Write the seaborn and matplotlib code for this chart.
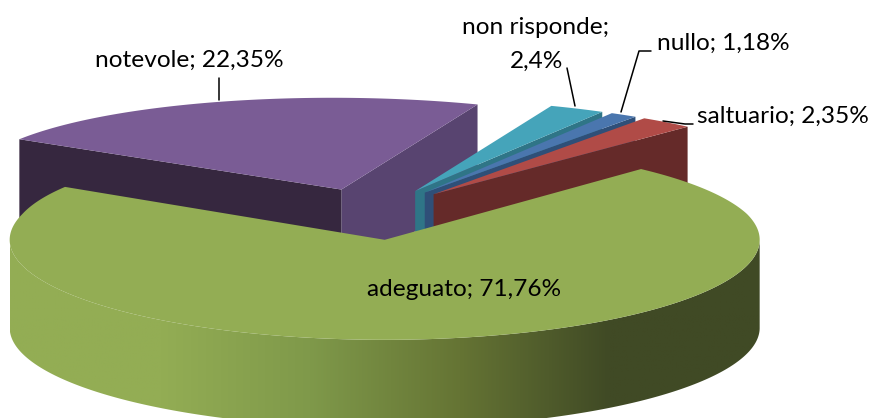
"""Exploded 3D style pie chart, drawn on a flat axes in pixel units."""

import numpy as np
import matplotlib
matplotlib.use("Agg")
import matplotlib.pyplot as plt
from matplotlib.patches import Polygon
import seaborn as sns

# Data, in drawing order going clockwise from the first slice
names = ["adeguato", "notevole", "non risponde", "nullo", "saltuario"]
values = [71.76, 22.35, 2.4, 1.18, 2.35]

top_colors = ["#93AD54", "#7A5C95", "#45A4BA", "#4A76AE", "#B04B47"]
right_face_colors = ["#93AD54", "#584470", "#2F7587", "#2F4F78", "#652A29"]
left_face_colors = ["#93AD54", "#36273F", "#2F7587", "#2F4F78", "#652A29"]
side_stops = ["#93AD54", "#93AD54", "#7F994A", "#657434", "#404A25", "#404A25"]

# Layout of the fake 3D pie
CX, CY = 373, 214
RX, RY = 375, 100
DEPTH = 88
EXPLODE = 0.26
START = 46.0


def project(xs, ys):
    # back of the pie is a bit smaller and leans left
    xs = np.asarray(xs, dtype=float)
    ys = np.asarray(ys, dtype=float)
    up = np.clip(CY - ys, 0, None)
    return xs - 0.09 * up, ys + 0.055 * up * up / RY


def slice_shape(start, sweep):
    mid = np.radians(start - sweep / 2)
    ax0 = CX + EXPLODE * RX * np.cos(mid)
    ay0 = CY - EXPLODE * RY * np.sin(mid)
    theta = np.radians(np.linspace(start, start - sweep, 400))
    arc_x = ax0 + RX * np.cos(theta)
    arc_y = ay0 - RY * np.sin(theta)
    return (ax0, ay0), theta, arc_x, arc_y


def label(name, value):
    return f"{name}; {value:g}%".replace(".", ",")


sns.set_theme(style="white")
plt.rcParams["font.family"] = ["Lato", "DejaVu Sans"]

fig = plt.figure(figsize=(8.74, 4.18), dpi=100)
ax = fig.add_axes([0, 0, 1, 1])

sweeps = np.array(values) / sum(values) * 360
starts = START - np.concatenate([[0], np.cumsum(sweeps)[:-1]])

# back slices first, the big green one goes on top of them
for z, i in enumerate([1, 2, 3, 4, 0]):
    apex, theta, arc_x, arc_y = slice_shape(starts[i], sweeps[i])
    px, py = project(np.r_[apex[0], arc_x], np.r_[apex[1], arc_y])

    if i == 0:
        # front wall with the horizontal light to dark gradient
        front = np.sin(theta) <= 0
        wx, wy = arc_x[front], arc_y[front]
        wall = Polygon(np.c_[np.r_[wx, wx[::-1]], np.r_[wy, wy[::-1] + DEPTH]], closed=True,
                       fc="none", ec="none")
        ax.add_patch(wall)
        cmap = sns.blend_palette(side_stops, n_colors=256, as_cmap=True)
        grad = ax.imshow(np.linspace(0, 1, 256)[None, :], cmap=cmap, aspect="auto",
                         extent=[wx.min(), wx.max(), 430, 200], zorder=z * 3 + 1)
        grad.set_clip_path(wall)
    else:
        # cut faces, extruded straight down
        ex, ey = px[-1], py[-1]
        ax.add_patch(Polygon([(px[0], py[0]), (ex, ey), (ex, ey + DEPTH), (px[0], py[0] + DEPTH)],
                             fc=right_face_colors[i], ec="none", zorder=z * 3 + 1))
        if i == 1:
            ex, ey = px[1], py[1]
            ax.add_patch(Polygon([(ex, ey), (px[0], py[0]), (px[0], py[0] + DEPTH), (ex, ey + DEPTH)],
                                 fc=left_face_colors[i], ec="none", zorder=z * 3 + 1))
    ax.add_patch(Polygon(np.c_[px, py], fc=top_colors[i], ec="none", zorder=z * 3 + 2))

ax.set_xlim(0, 874)
ax.set_ylim(418, 0)
ax.axis("off")

FS = 17.6
texts = [label(n, v) for n, v in zip(names, values)]
ax.text(464, 289, texts[0], ha="center", va="center", fontsize=FS, color="black", zorder=30)
ax.text(189, 60, texts[1], ha="center", va="center", fontsize=FS, color="black", zorder=30)
ax.text(536, 28, f"{names[2]};", ha="center", va="center", fontsize=FS, color="black", zorder=30)
ax.text(537, 61, f"{values[2]:g}%".replace(".", ","), ha="center", va="center", fontsize=FS, color="black", zorder=30)
ax.text(723, 43, texts[3], ha="center", va="center", fontsize=FS, color="black", zorder=30)
ax.text(783, 116, texts[4], ha="center", va="center", fontsize=FS, color="black", zorder=30)

# leader lines
ax.plot([219, 219], [78, 100], color="black", lw=1.1, zorder=30)
ax.plot([567, 575], [68, 106], color="black", lw=1.1, zorder=30)
ax.plot([651, 639, 621], [51, 51, 112], color="black", lw=1.1, zorder=30)
ax.plot([693, 685, 663], [124, 124, 121], color="black", lw=1.1, zorder=30)

fig.savefig("out.png", dpi=100)
